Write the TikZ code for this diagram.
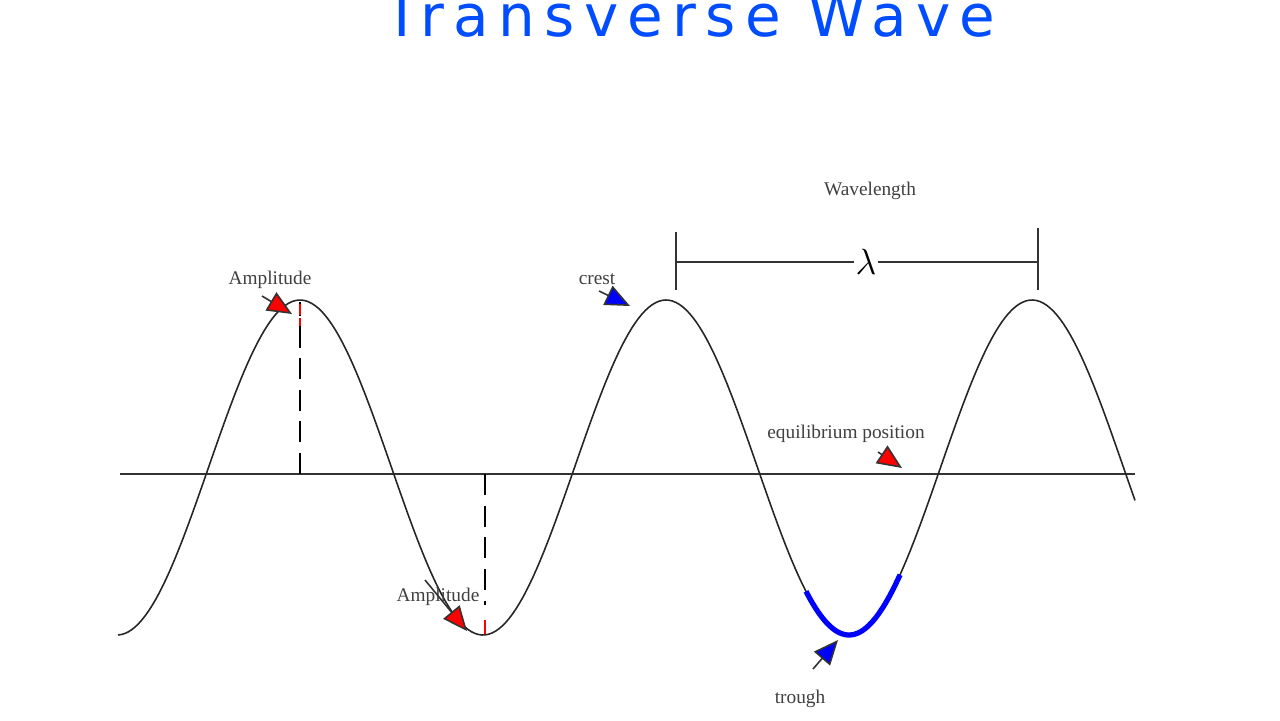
\documentclass[tikz,border=0pt]{standalone}
\usepackage{fontspec}
\setmainfont{Liberation Serif}
\newfontfamily\hand{DejaVu Sans}
\usetikzlibrary{arrows.meta}
\tikzset{
 lbl/.style={font=\fontsize{11}{12}\selectfont, text=black!75, inner sep=1pt},
 ptr/.style={black!80, line width=0.9pt, -{Triangle[length=14pt,width=12pt,fill=#1]}},
 amp/.style={dashed, dash pattern=on 12pt off 6pt, line width=0.8pt},
}
\begin{document}
\begin{tikzpicture}[x=0.02cm,y=-0.02cm]
\useasboundingbox (0,0) rectangle (1280,720);
\fill[white] (0,0) rectangle (1280,720);
% title
\node[anchor=base, text=blue!70!cyan, font=\hand\fontsize{33}{38}\selectfont\addfontfeature{LetterSpace=16}] (title) at (690,36) {Transverse Wave};
% axis
\coordinate (a0) at (120,474);
\coordinate (a1) at (1135,474);
\draw[black!80, line width=0.9pt] (a0) -- (a1);
% wave
\draw[black!85, line width=0.9pt, domain=118:1135, samples=300, variable=\t]
 plot ({\t},{467.5-167.5*cos((\t-300)/366*360)});
% trough highlight
\draw[blue, line width=3pt, domain=806:900, samples=40, variable=\t]
 plot ({\t},{467.5-167.5*cos((\t-300)/366*360)});
% amplitude lines
\coordinate (c1) at (300,474);
\coordinate (c1t) at (300,302);
\draw[amp] (c1) -- (c1t);
\draw[red, line width=1.2pt, dash pattern=on 6pt off 2pt] (300,304) -- (300,326);
\coordinate (t1) at (485,474);
\coordinate (t1b) at (485,634);
\draw[amp] (t1) -- (485,605);
\draw[red, line width=1.2pt] (485,620) -- (t1b);
% wavelength
\coordinate (w0) at (676,232);
\coordinate (w0b) at (676,290);
\coordinate (w1) at (1038,228);
\coordinate (w1b) at (1038,290);
\draw[black!80, line width=0.9pt] (w0) -- (w0b);
\draw[black!80, line width=0.9pt] (w1) -- (w1b);
\draw[black!80, line width=0.9pt] (676,262) -- (1038,262);
\node[font=\fontsize{20}{20}\selectfont, fill=white, inner sep=1pt] (lam) at (866,262) {$\lambda$};
\node[lbl] (wl) at (870,191) {Wavelength};
% labels and pointers
\node[lbl] (amp1) at (270,280) {Amplitude};
\coordinate (p1) at (292,314);
\draw[ptr=red] (262,296) -- (p1);
\node[lbl] (crest) at (597,279) {crest};
\coordinate (p2) at (630,306);
\draw[ptr=blue] (599,291) -- (p2);
\node[lbl] (eq) at (846,434) {equilibrium position};
\coordinate (p3) at (902,468);
\draw[ptr=red] (878,452) -- (p3);
\node[lbl] (amp2) at (438,597) {Amplitude};
\coordinate (p4) at (467,631);
\draw[ptr=red] (425,580) -- (p4);
\node[lbl] (tr) at (800,699) {trough};
\coordinate (p5) at (838,640);
\draw[ptr=blue] (813,669) -- (p5);
\end{tikzpicture}
\end{document}
